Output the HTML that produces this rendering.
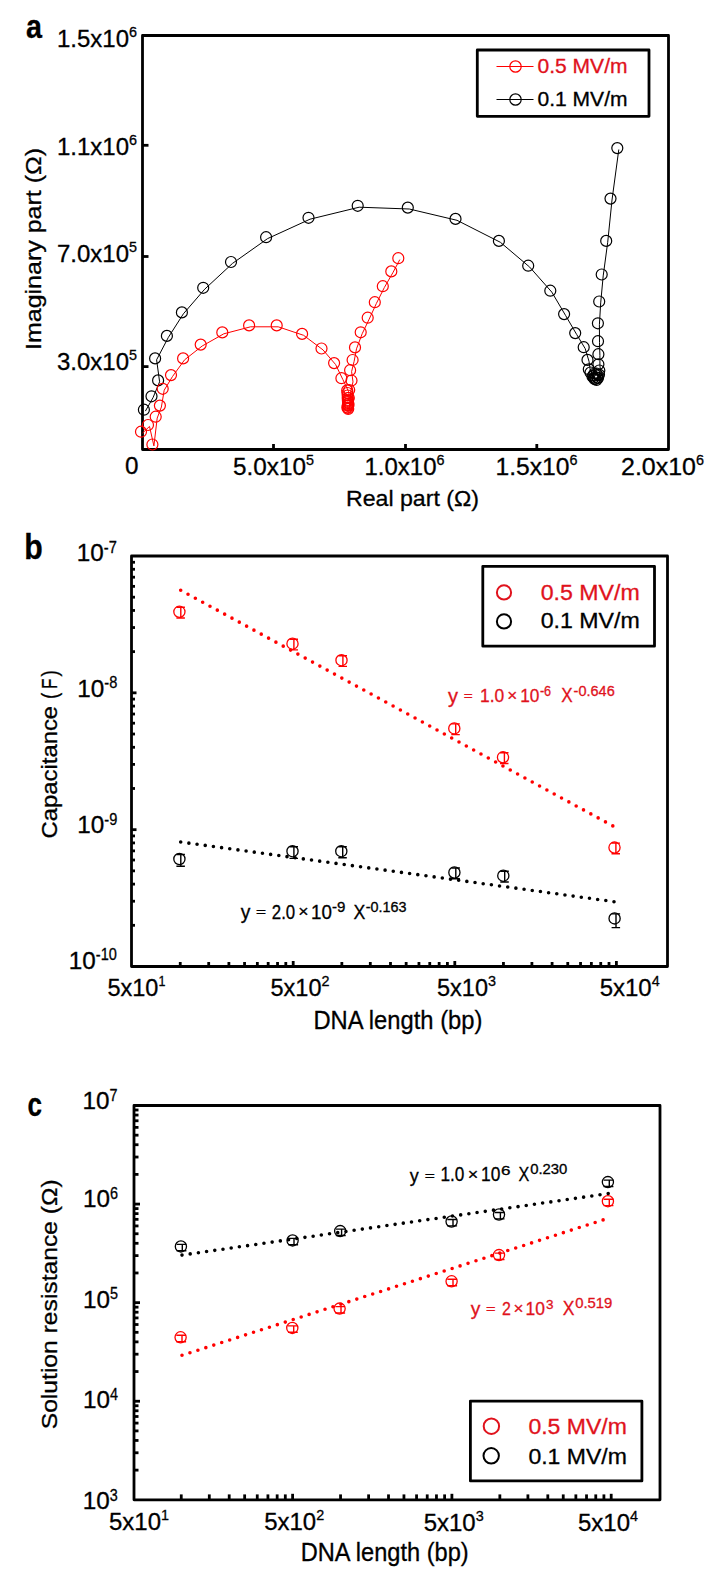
<!DOCTYPE html>
<html><head><meta charset="utf-8"><style>
html,body{margin:0;padding:0;background:#fff;}
svg{display:block;}
text{font-family:"Liberation Sans", sans-serif;stroke-width:0.3px;paint-order:stroke;}
</style></head><body>
<svg width="718" height="1582" viewBox="0 0 718 1582">
<rect width="718" height="1582" fill="#fff"/>
<text x="26" y="38" font-size="33" fill="#000" stroke="#000" font-weight="bold" textLength="16" lengthAdjust="spacingAndGlyphs">a</text>
<rect x="142.5" y="35.5" width="526.0" height="414.0" fill="none" stroke="#000" stroke-width="2.8" stroke-linejoin="round"/>
<line x1="142.5" y1="145.3" x2="148.5" y2="145.3" stroke="#000" stroke-width="2.8"/>
<line x1="142.5" y1="256.5" x2="148.5" y2="256.5" stroke="#000" stroke-width="2.8"/>
<line x1="142.5" y1="366.6" x2="148.5" y2="366.6" stroke="#000" stroke-width="2.8"/>
<line x1="273.5" y1="449.5" x2="273.5" y2="444.0" stroke="#000" stroke-width="2.8"/>
<line x1="405.5" y1="449.5" x2="405.5" y2="444.0" stroke="#000" stroke-width="2.8"/>
<line x1="536.8" y1="449.5" x2="536.8" y2="444.0" stroke="#000" stroke-width="2.8"/>
<text x="57" y="47" font-size="24" fill="#000" stroke="#000" font-weight="normal" textLength="72" lengthAdjust="spacingAndGlyphs">1.5x10</text>
<text x="129" y="37" font-size="15.5" fill="#000" stroke="#000" font-weight="normal" textLength="8" lengthAdjust="spacingAndGlyphs">6</text>
<text x="57" y="155" font-size="24" fill="#000" stroke="#000" font-weight="normal" textLength="72" lengthAdjust="spacingAndGlyphs">1.1x10</text>
<text x="129" y="145" font-size="15.5" fill="#000" stroke="#000" font-weight="normal" textLength="8" lengthAdjust="spacingAndGlyphs">6</text>
<text x="57" y="262" font-size="24" fill="#000" stroke="#000" font-weight="normal" textLength="72" lengthAdjust="spacingAndGlyphs">7.0x10</text>
<text x="129" y="252" font-size="15.5" fill="#000" stroke="#000" font-weight="normal" textLength="8" lengthAdjust="spacingAndGlyphs">5</text>
<text x="57" y="370" font-size="24" fill="#000" stroke="#000" font-weight="normal" textLength="72" lengthAdjust="spacingAndGlyphs">3.0x10</text>
<text x="129" y="360" font-size="15.5" fill="#000" stroke="#000" font-weight="normal" textLength="8" lengthAdjust="spacingAndGlyphs">5</text>
<text x="125" y="474" font-size="24" fill="#000" stroke="#000" font-weight="normal" textLength="13.5" lengthAdjust="spacingAndGlyphs">0</text>
<text x="233" y="475" font-size="24" fill="#000" stroke="#000" font-weight="normal" textLength="73" lengthAdjust="spacingAndGlyphs">5.0x10</text>
<text x="306" y="465" font-size="15.5" fill="#000" stroke="#000" font-weight="normal" textLength="8" lengthAdjust="spacingAndGlyphs">5</text>
<text x="364.5" y="475" font-size="24" fill="#000" stroke="#000" font-weight="normal" textLength="72" lengthAdjust="spacingAndGlyphs">1.0x10</text>
<text x="436.5" y="465" font-size="15.5" fill="#000" stroke="#000" font-weight="normal" textLength="8" lengthAdjust="spacingAndGlyphs">6</text>
<text x="495.5" y="475" font-size="24" fill="#000" stroke="#000" font-weight="normal" textLength="74" lengthAdjust="spacingAndGlyphs">1.5x10</text>
<text x="569.5" y="465" font-size="15.5" fill="#000" stroke="#000" font-weight="normal" textLength="8" lengthAdjust="spacingAndGlyphs">6</text>
<text x="621" y="475" font-size="24" fill="#000" stroke="#000" font-weight="normal" textLength="75" lengthAdjust="spacingAndGlyphs">2.0x10</text>
<text x="696" y="465" font-size="15.5" fill="#000" stroke="#000" font-weight="normal" textLength="8" lengthAdjust="spacingAndGlyphs">6</text>
<text x="346" y="505.5" font-size="22.5" fill="#000" stroke="#000" font-weight="normal" textLength="133" lengthAdjust="spacingAndGlyphs">Real part (Ω)</text>
<g transform="translate(40.5,350) rotate(-90)">
<text x="0" y="0" font-size="22" fill="#000" stroke="#000" font-weight="normal" textLength="202" lengthAdjust="spacingAndGlyphs">Imaginary part (Ω)</text>
</g>
<rect x="477.3" y="50" width="171.7" height="66.3" fill="none" stroke="#000" stroke-width="2.8" stroke-linejoin="round"/>
<line x1="496.5" y1="66.5" x2="533.5" y2="66.5" stroke="#ff0000" stroke-width="1.2"/>
<circle cx="515.5" cy="66.5" r="5.7" fill="none" stroke="#ff0000" stroke-width="1.2"/>
<text x="537.5" y="73" font-size="19.5" fill="#e0121c" stroke="#e0121c" font-weight="normal" textLength="90" lengthAdjust="spacingAndGlyphs">0.5 MV/m</text>
<line x1="496.5" y1="99.5" x2="533.5" y2="99.5" stroke="#000" stroke-width="1.2"/>
<circle cx="515.5" cy="99.5" r="5.7" fill="none" stroke="#000" stroke-width="1.2"/>
<text x="537.5" y="106" font-size="19.5" fill="#000" stroke="#000" font-weight="normal" textLength="90" lengthAdjust="spacingAndGlyphs">0.1 MV/m</text>
<polyline points="145.4,411.1 153.0,397.7 159.6,381.8 156.6,359.8 168.4,337.3 183.4,313.8 204.7,289.2 232.5,263.4 267.6,238.6 310.0,219.2 359.2,207.2 409.3,209.0 457.0,220.3 500.4,242.3 529.7,267.1 551.8,292.1 565.6,315.5 576.7,334.5 585.2,348.6 589.0,361.3 590.3,370.7 592.0,373.9 594.0,377.9 596.0,380.4 598.0,381.4 599.5,379.4 600.5,375.9 600.8,371.9 599.9,365.7 599.9,355.6 599.5,342.6 599.4,324.7 600.7,302.9 603.2,275.9 607.7,242.3 612.0,200.0 618.8,149.5" fill="none" stroke="#000" stroke-width="1.0" stroke-linejoin="round"/>
<circle cx="143.9" cy="409.7" r="5.5" fill="none" stroke="#000" stroke-width="1.2"/>
<circle cx="151.5" cy="396.3" r="5.5" fill="none" stroke="#000" stroke-width="1.2"/>
<circle cx="158.1" cy="380.4" r="5.5" fill="none" stroke="#000" stroke-width="1.2"/>
<circle cx="155.1" cy="358.4" r="5.5" fill="none" stroke="#000" stroke-width="1.2"/>
<circle cx="166.9" cy="335.9" r="5.5" fill="none" stroke="#000" stroke-width="1.2"/>
<circle cx="181.9" cy="312.4" r="5.5" fill="none" stroke="#000" stroke-width="1.2"/>
<circle cx="203.2" cy="287.8" r="5.5" fill="none" stroke="#000" stroke-width="1.2"/>
<circle cx="231.0" cy="262.0" r="5.5" fill="none" stroke="#000" stroke-width="1.2"/>
<circle cx="266.1" cy="237.2" r="5.5" fill="none" stroke="#000" stroke-width="1.2"/>
<circle cx="308.5" cy="217.8" r="5.5" fill="none" stroke="#000" stroke-width="1.2"/>
<circle cx="357.7" cy="205.8" r="5.5" fill="none" stroke="#000" stroke-width="1.2"/>
<circle cx="407.8" cy="207.6" r="5.5" fill="none" stroke="#000" stroke-width="1.2"/>
<circle cx="455.5" cy="218.9" r="5.5" fill="none" stroke="#000" stroke-width="1.2"/>
<circle cx="498.9" cy="240.9" r="5.5" fill="none" stroke="#000" stroke-width="1.2"/>
<circle cx="528.2" cy="265.7" r="5.5" fill="none" stroke="#000" stroke-width="1.2"/>
<circle cx="550.3" cy="290.7" r="5.5" fill="none" stroke="#000" stroke-width="1.2"/>
<circle cx="564.1" cy="314.1" r="5.5" fill="none" stroke="#000" stroke-width="1.2"/>
<circle cx="575.2" cy="333.1" r="5.5" fill="none" stroke="#000" stroke-width="1.2"/>
<circle cx="583.7" cy="347.2" r="5.5" fill="none" stroke="#000" stroke-width="1.2"/>
<circle cx="587.5" cy="359.9" r="5.5" fill="none" stroke="#000" stroke-width="1.2"/>
<circle cx="588.8" cy="369.3" r="5.5" fill="none" stroke="#000" stroke-width="1.2"/>
<circle cx="590.5" cy="372.5" r="5.5" fill="none" stroke="#000" stroke-width="1.2"/>
<circle cx="592.5" cy="376.5" r="5.5" fill="none" stroke="#000" stroke-width="1.2"/>
<circle cx="594.5" cy="379.0" r="5.5" fill="none" stroke="#000" stroke-width="1.2"/>
<circle cx="596.5" cy="380.0" r="5.5" fill="none" stroke="#000" stroke-width="1.2"/>
<circle cx="598.0" cy="378.0" r="5.5" fill="none" stroke="#000" stroke-width="1.2"/>
<circle cx="599.0" cy="374.5" r="5.5" fill="none" stroke="#000" stroke-width="1.2"/>
<circle cx="599.3" cy="370.5" r="5.5" fill="none" stroke="#000" stroke-width="1.2"/>
<circle cx="598.4" cy="364.3" r="5.5" fill="none" stroke="#000" stroke-width="1.2"/>
<circle cx="598.4" cy="354.2" r="5.5" fill="none" stroke="#000" stroke-width="1.2"/>
<circle cx="598.0" cy="341.2" r="5.5" fill="none" stroke="#000" stroke-width="1.2"/>
<circle cx="597.9" cy="323.3" r="5.5" fill="none" stroke="#000" stroke-width="1.2"/>
<circle cx="599.2" cy="301.5" r="5.5" fill="none" stroke="#000" stroke-width="1.2"/>
<circle cx="601.7" cy="274.5" r="5.5" fill="none" stroke="#000" stroke-width="1.2"/>
<circle cx="606.2" cy="240.9" r="5.5" fill="none" stroke="#000" stroke-width="1.2"/>
<circle cx="610.5" cy="198.6" r="5.5" fill="none" stroke="#000" stroke-width="1.2"/>
<circle cx="617.3" cy="148.1" r="5.5" fill="none" stroke="#000" stroke-width="1.2"/>
<polyline points="142.5,433.1 149.5,426.4 153.9,445.9 157.2,418.1 161.4,407.0 164.2,390.2 172.5,376.5 184.6,359.8 202.2,346.0 223.8,333.8 250.6,326.8 278.2,326.8 303.6,335.3 323.0,349.9 335.6,364.5 342.9,379.6 348.7,391.8 349.0,394.4 349.2,396.9 349.2,399.4 349.4,401.4 349.5,403.4 349.5,405.4 349.5,407.4 349.5,409.4 349.7,410.4 350.0,406.4 350.3,399.4 350.7,391.4 353.0,381.9 351.6,371.6 354.1,361.4 356.5,348.8 362.2,333.7 369.2,319.1 376.3,303.6 384.3,287.6 392.8,272.8 399.8,259.6" fill="none" stroke="#ff0000" stroke-width="1.0" stroke-linejoin="round"/>
<circle cx="141.0" cy="431.7" r="5.5" fill="none" stroke="#ff0000" stroke-width="1.2"/>
<circle cx="148.0" cy="425.0" r="5.5" fill="none" stroke="#ff0000" stroke-width="1.2"/>
<circle cx="152.4" cy="444.5" r="5.5" fill="none" stroke="#ff0000" stroke-width="1.2"/>
<circle cx="155.7" cy="416.7" r="5.5" fill="none" stroke="#ff0000" stroke-width="1.2"/>
<circle cx="159.9" cy="405.6" r="5.5" fill="none" stroke="#ff0000" stroke-width="1.2"/>
<circle cx="162.7" cy="388.8" r="5.5" fill="none" stroke="#ff0000" stroke-width="1.2"/>
<circle cx="171.0" cy="375.1" r="5.5" fill="none" stroke="#ff0000" stroke-width="1.2"/>
<circle cx="183.1" cy="358.4" r="5.5" fill="none" stroke="#ff0000" stroke-width="1.2"/>
<circle cx="200.7" cy="344.6" r="5.5" fill="none" stroke="#ff0000" stroke-width="1.2"/>
<circle cx="222.3" cy="332.4" r="5.5" fill="none" stroke="#ff0000" stroke-width="1.2"/>
<circle cx="249.1" cy="325.4" r="5.5" fill="none" stroke="#ff0000" stroke-width="1.2"/>
<circle cx="276.7" cy="325.4" r="5.5" fill="none" stroke="#ff0000" stroke-width="1.2"/>
<circle cx="302.1" cy="333.9" r="5.5" fill="none" stroke="#ff0000" stroke-width="1.2"/>
<circle cx="321.5" cy="348.5" r="5.5" fill="none" stroke="#ff0000" stroke-width="1.2"/>
<circle cx="334.1" cy="363.1" r="5.5" fill="none" stroke="#ff0000" stroke-width="1.2"/>
<circle cx="341.4" cy="378.2" r="5.5" fill="none" stroke="#ff0000" stroke-width="1.2"/>
<circle cx="347.2" cy="390.4" r="5.5" fill="none" stroke="#ff0000" stroke-width="1.2"/>
<circle cx="347.5" cy="393.0" r="5.5" fill="none" stroke="#ff0000" stroke-width="1.2"/>
<circle cx="347.7" cy="395.5" r="5.5" fill="none" stroke="#ff0000" stroke-width="1.2"/>
<circle cx="347.7" cy="398.0" r="5.5" fill="none" stroke="#ff0000" stroke-width="1.2"/>
<circle cx="347.9" cy="400.0" r="5.5" fill="none" stroke="#ff0000" stroke-width="1.2"/>
<circle cx="348.0" cy="402.0" r="5.5" fill="none" stroke="#ff0000" stroke-width="1.2"/>
<circle cx="348.0" cy="404.0" r="5.5" fill="none" stroke="#ff0000" stroke-width="1.2"/>
<circle cx="348.0" cy="406.0" r="5.5" fill="none" stroke="#ff0000" stroke-width="1.2"/>
<circle cx="348.0" cy="408.0" r="5.5" fill="none" stroke="#ff0000" stroke-width="1.2"/>
<circle cx="348.2" cy="409.0" r="5.5" fill="none" stroke="#ff0000" stroke-width="1.2"/>
<circle cx="348.5" cy="405.0" r="5.5" fill="none" stroke="#ff0000" stroke-width="1.2"/>
<circle cx="348.8" cy="398.0" r="5.5" fill="none" stroke="#ff0000" stroke-width="1.2"/>
<circle cx="349.2" cy="390.0" r="5.5" fill="none" stroke="#ff0000" stroke-width="1.2"/>
<circle cx="351.5" cy="380.5" r="5.5" fill="none" stroke="#ff0000" stroke-width="1.2"/>
<circle cx="350.1" cy="370.2" r="5.5" fill="none" stroke="#ff0000" stroke-width="1.2"/>
<circle cx="352.6" cy="360.0" r="5.5" fill="none" stroke="#ff0000" stroke-width="1.2"/>
<circle cx="355.0" cy="347.4" r="5.5" fill="none" stroke="#ff0000" stroke-width="1.2"/>
<circle cx="360.7" cy="332.3" r="5.5" fill="none" stroke="#ff0000" stroke-width="1.2"/>
<circle cx="367.7" cy="317.7" r="5.5" fill="none" stroke="#ff0000" stroke-width="1.2"/>
<circle cx="374.8" cy="302.2" r="5.5" fill="none" stroke="#ff0000" stroke-width="1.2"/>
<circle cx="382.8" cy="286.2" r="5.5" fill="none" stroke="#ff0000" stroke-width="1.2"/>
<circle cx="391.3" cy="271.4" r="5.5" fill="none" stroke="#ff0000" stroke-width="1.2"/>
<circle cx="398.3" cy="258.2" r="5.5" fill="none" stroke="#ff0000" stroke-width="1.2"/>
<circle cx="347.8" cy="401.0" r="5.3" fill="none" stroke="#ff0000" stroke-width="1.3"/>
<circle cx="348.4" cy="403.2" r="5.3" fill="none" stroke="#ff0000" stroke-width="1.3"/>
<circle cx="347.6" cy="405.4" r="5.3" fill="none" stroke="#ff0000" stroke-width="1.3"/>
<circle cx="347.2" cy="407.6" r="5.3" fill="none" stroke="#ff0000" stroke-width="1.3"/>
<circle cx="595.5" cy="379.0" r="5.3" fill="none" stroke="#000" stroke-width="1.2"/>
<circle cx="597.5" cy="377.9" r="5.3" fill="none" stroke="#000" stroke-width="1.2"/>
<circle cx="597.9" cy="375.3" r="5.3" fill="none" stroke="#000" stroke-width="1.2"/>
<circle cx="596.6" cy="373.3" r="5.3" fill="none" stroke="#000" stroke-width="1.2"/>
<circle cx="594.4" cy="373.3" r="5.3" fill="none" stroke="#000" stroke-width="1.2"/>
<circle cx="593.1" cy="375.4" r="5.3" fill="none" stroke="#000" stroke-width="1.2"/>
<circle cx="593.6" cy="377.9" r="5.3" fill="none" stroke="#000" stroke-width="1.2"/>
<text x="24.3" y="558.8" font-size="35.3" fill="#000" stroke="#000" font-weight="bold" textLength="18.5" lengthAdjust="spacingAndGlyphs">b</text>
<rect x="131.5" y="556" width="536.0" height="410.5" fill="none" stroke="#000" stroke-width="2.8" stroke-linejoin="round"/>
<line x1="131.5" y1="651.6423955933119" x2="135.0" y2="651.6423955933119" stroke="#000" stroke-width="2.8"/>
<line x1="131.5" y1="627.5472416458596" x2="135.0" y2="627.5472416458596" stroke="#000" stroke-width="2.8"/>
<line x1="131.5" y1="610.4514578532904" x2="135.0" y2="610.4514578532904" stroke="#000" stroke-width="2.8"/>
<line x1="131.5" y1="597.1909377400215" x2="135.0" y2="597.1909377400215" stroke="#000" stroke-width="2.8"/>
<line x1="131.5" y1="586.3563039058381" x2="135.0" y2="586.3563039058381" stroke="#000" stroke-width="2.8"/>
<line x1="131.5" y1="577.1957515247159" x2="135.0" y2="577.1957515247159" stroke="#000" stroke-width="2.8"/>
<line x1="131.5" y1="569.2605201132691" x2="135.0" y2="569.2605201132691" stroke="#000" stroke-width="2.8"/>
<line x1="131.5" y1="562.2611499583857" x2="135.0" y2="562.2611499583857" stroke="#000" stroke-width="2.8"/>
<line x1="131.5" y1="692.8333333333334" x2="136.5" y2="692.8333333333334" stroke="#000" stroke-width="2.8"/>
<line x1="131.5" y1="788.4757289266453" x2="135.0" y2="788.4757289266453" stroke="#000" stroke-width="2.8"/>
<line x1="131.5" y1="764.3805749791929" x2="135.0" y2="764.3805749791929" stroke="#000" stroke-width="2.8"/>
<line x1="131.5" y1="747.2847911866238" x2="135.0" y2="747.2847911866238" stroke="#000" stroke-width="2.8"/>
<line x1="131.5" y1="734.0242710733548" x2="135.0" y2="734.0242710733548" stroke="#000" stroke-width="2.8"/>
<line x1="131.5" y1="723.1896372391715" x2="135.0" y2="723.1896372391715" stroke="#000" stroke-width="2.8"/>
<line x1="131.5" y1="714.0290848580493" x2="135.0" y2="714.0290848580493" stroke="#000" stroke-width="2.8"/>
<line x1="131.5" y1="706.0938534466025" x2="135.0" y2="706.0938534466025" stroke="#000" stroke-width="2.8"/>
<line x1="131.5" y1="699.094483291719" x2="135.0" y2="699.094483291719" stroke="#000" stroke-width="2.8"/>
<line x1="131.5" y1="829.6666666666667" x2="136.5" y2="829.6666666666667" stroke="#000" stroke-width="2.8"/>
<line x1="131.5" y1="925.3090622599786" x2="135.0" y2="925.3090622599786" stroke="#000" stroke-width="2.8"/>
<line x1="131.5" y1="901.2139083125263" x2="135.0" y2="901.2139083125263" stroke="#000" stroke-width="2.8"/>
<line x1="131.5" y1="884.1181245199572" x2="135.0" y2="884.1181245199572" stroke="#000" stroke-width="2.8"/>
<line x1="131.5" y1="870.8576044066882" x2="135.0" y2="870.8576044066882" stroke="#000" stroke-width="2.8"/>
<line x1="131.5" y1="860.0229705725048" x2="135.0" y2="860.0229705725048" stroke="#000" stroke-width="2.8"/>
<line x1="131.5" y1="850.8624181913826" x2="135.0" y2="850.8624181913826" stroke="#000" stroke-width="2.8"/>
<line x1="131.5" y1="842.9271867799358" x2="135.0" y2="842.9271867799358" stroke="#000" stroke-width="2.8"/>
<line x1="131.5" y1="835.9278166250524" x2="135.0" y2="835.9278166250524" stroke="#000" stroke-width="2.8"/>
<line x1="180.24644729929935" y1="966.5" x2="180.24644729929935" y2="962.0" stroke="#000" stroke-width="2.8"/>
<line x1="208.70279476269744" y1="966.5" x2="208.70279476269744" y2="962.0" stroke="#000" stroke-width="2.8"/>
<line x1="228.89289459859873" y1="966.5" x2="228.89289459859873" y2="962.0" stroke="#000" stroke-width="2.8"/>
<line x1="244.55355270070064" y1="966.5" x2="244.55355270070064" y2="962.0" stroke="#000" stroke-width="2.8"/>
<line x1="257.3492420619968" y1="966.5" x2="257.3492420619968" y2="962.0" stroke="#000" stroke-width="2.8"/>
<line x1="268.16784326630386" y1="966.5" x2="268.16784326630386" y2="962.0" stroke="#000" stroke-width="2.8"/>
<line x1="277.53934189789805" y1="966.5" x2="277.53934189789805" y2="962.0" stroke="#000" stroke-width="2.8"/>
<line x1="285.8055895253949" y1="966.5" x2="285.8055895253949" y2="962.0" stroke="#000" stroke-width="2.8"/>
<line x1="293.2" y1="966.5" x2="293.2" y2="961.0" stroke="#000" stroke-width="2.8"/>
<line x1="341.84644729929937" y1="966.5" x2="341.84644729929937" y2="962.0" stroke="#000" stroke-width="2.8"/>
<line x1="370.30279476269743" y1="966.5" x2="370.30279476269743" y2="962.0" stroke="#000" stroke-width="2.8"/>
<line x1="390.4928945985987" y1="966.5" x2="390.4928945985987" y2="962.0" stroke="#000" stroke-width="2.8"/>
<line x1="406.15355270070063" y1="966.5" x2="406.15355270070063" y2="962.0" stroke="#000" stroke-width="2.8"/>
<line x1="418.9492420619968" y1="966.5" x2="418.9492420619968" y2="962.0" stroke="#000" stroke-width="2.8"/>
<line x1="429.7678432663039" y1="966.5" x2="429.7678432663039" y2="962.0" stroke="#000" stroke-width="2.8"/>
<line x1="439.139341897898" y1="966.5" x2="439.139341897898" y2="962.0" stroke="#000" stroke-width="2.8"/>
<line x1="447.4055895253949" y1="966.5" x2="447.4055895253949" y2="962.0" stroke="#000" stroke-width="2.8"/>
<line x1="454.79999999999995" y1="966.5" x2="454.79999999999995" y2="961.0" stroke="#000" stroke-width="2.8"/>
<line x1="503.44644729929934" y1="966.5" x2="503.44644729929934" y2="962.0" stroke="#000" stroke-width="2.8"/>
<line x1="531.9027947626973" y1="966.5" x2="531.9027947626973" y2="962.0" stroke="#000" stroke-width="2.8"/>
<line x1="552.0928945985987" y1="966.5" x2="552.0928945985987" y2="962.0" stroke="#000" stroke-width="2.8"/>
<line x1="567.7535527007005" y1="966.5" x2="567.7535527007005" y2="962.0" stroke="#000" stroke-width="2.8"/>
<line x1="580.5492420619968" y1="966.5" x2="580.5492420619968" y2="962.0" stroke="#000" stroke-width="2.8"/>
<line x1="591.3678432663039" y1="966.5" x2="591.3678432663039" y2="962.0" stroke="#000" stroke-width="2.8"/>
<line x1="600.739341897898" y1="966.5" x2="600.739341897898" y2="962.0" stroke="#000" stroke-width="2.8"/>
<line x1="609.0055895253948" y1="966.5" x2="609.0055895253948" y2="962.0" stroke="#000" stroke-width="2.8"/>
<line x1="616.4" y1="966.5" x2="616.4" y2="961.0" stroke="#000" stroke-width="2.8"/>
<text x="76.8" y="561.4" font-size="23" fill="#000" stroke="#000" font-weight="normal" textLength="27" lengthAdjust="spacingAndGlyphs">10</text>
<text x="103.8" y="552.6999999999999" font-size="16.5" fill="#000" stroke="#000" font-weight="normal" textLength="13" lengthAdjust="spacingAndGlyphs">-7</text>
<text x="77.3" y="696.9" font-size="23" fill="#000" stroke="#000" font-weight="normal" textLength="27" lengthAdjust="spacingAndGlyphs">10</text>
<text x="104.3" y="688.1999999999999" font-size="16.5" fill="#000" stroke="#000" font-weight="normal" textLength="13" lengthAdjust="spacingAndGlyphs">-8</text>
<text x="77.3" y="833.4" font-size="23" fill="#000" stroke="#000" font-weight="normal" textLength="27" lengthAdjust="spacingAndGlyphs">10</text>
<text x="104.3" y="824.6999999999999" font-size="16.5" fill="#000" stroke="#000" font-weight="normal" textLength="13" lengthAdjust="spacingAndGlyphs">-9</text>
<text x="68.8" y="968.9" font-size="23" fill="#000" stroke="#000" font-weight="normal" textLength="27" lengthAdjust="spacingAndGlyphs">10</text>
<text x="95.8" y="960.1999999999999" font-size="16.5" fill="#000" stroke="#000" font-weight="normal" textLength="21" lengthAdjust="spacingAndGlyphs">-10</text>
<text x="107.4" y="996" font-size="24" fill="#000" stroke="#000" font-weight="normal" textLength="51" lengthAdjust="spacingAndGlyphs">5x10</text>
<text x="158.4" y="986" font-size="15.5" fill="#000" stroke="#000" font-weight="normal" textLength="7" lengthAdjust="spacingAndGlyphs">1</text>
<text x="270.5" y="996" font-size="24" fill="#000" stroke="#000" font-weight="normal" textLength="51" lengthAdjust="spacingAndGlyphs">5x10</text>
<text x="321.5" y="986" font-size="15.5" fill="#000" stroke="#000" font-weight="normal" textLength="8" lengthAdjust="spacingAndGlyphs">2</text>
<text x="437" y="996" font-size="24" fill="#000" stroke="#000" font-weight="normal" textLength="51" lengthAdjust="spacingAndGlyphs">5x10</text>
<text x="488" y="986" font-size="15.5" fill="#000" stroke="#000" font-weight="normal" textLength="8" lengthAdjust="spacingAndGlyphs">3</text>
<text x="599.7" y="996" font-size="24" fill="#000" stroke="#000" font-weight="normal" textLength="52" lengthAdjust="spacingAndGlyphs">5x10</text>
<text x="651.7" y="986" font-size="15.5" fill="#000" stroke="#000" font-weight="normal" textLength="8" lengthAdjust="spacingAndGlyphs">4</text>
<text x="313.4" y="1028.5" font-size="25" fill="#000" stroke="#000" font-weight="normal" textLength="169" lengthAdjust="spacingAndGlyphs">DNA length (bp)</text>
<g transform="translate(57,838.4) rotate(-90)">
<text x="0" y="0" font-size="22.5" fill="#000" stroke="#000" font-weight="normal" textLength="132.5" lengthAdjust="spacingAndGlyphs">Capacitance</text>
<text x="139.3" y="0" font-size="22.5" fill="#000" stroke="#000" font-weight="normal" textLength="6.3" lengthAdjust="spacingAndGlyphs">(</text>
<text x="149.5" y="0" font-size="22.5" fill="#000" stroke="#000" font-weight="normal" textLength="10.5" lengthAdjust="spacingAndGlyphs">F</text>
<text x="162" y="0" font-size="22.5" fill="#000" stroke="#000" font-weight="normal" textLength="6.3" lengthAdjust="spacingAndGlyphs">)</text>
</g>
<rect x="482.8" y="566.3" width="171.7" height="79.90000000000009" fill="none" stroke="#000" stroke-width="2.8" stroke-linejoin="round"/>
<circle cx="504.0" cy="592.4" r="7.1" fill="none" stroke="#e0121c" stroke-width="2.0"/>
<circle cx="504.0" cy="621.4" r="7.1" fill="none" stroke="#000" stroke-width="2.0"/>
<text x="540.7" y="600" font-size="21.5" fill="#e0121c" stroke="#e0121c" font-weight="normal" textLength="99" lengthAdjust="spacingAndGlyphs">0.5 MV/m</text>
<text x="540.7" y="628.3" font-size="21.5" fill="#000" stroke="#000" font-weight="normal" textLength="99" lengthAdjust="spacingAndGlyphs">0.1 MV/m</text>
<path d="M178.90,590.20a1.8,1.8 0 1,0 3.6,0a1.8,1.8 0 1,0 -3.6,0M186.22,594.19a1.8,1.8 0 1,0 3.6,0a1.8,1.8 0 1,0 -3.6,0M193.55,598.19a1.8,1.8 0 1,0 3.6,0a1.8,1.8 0 1,0 -3.6,0M200.87,602.18a1.8,1.8 0 1,0 3.6,0a1.8,1.8 0 1,0 -3.6,0M208.19,606.18a1.8,1.8 0 1,0 3.6,0a1.8,1.8 0 1,0 -3.6,0M215.52,610.17a1.8,1.8 0 1,0 3.6,0a1.8,1.8 0 1,0 -3.6,0M222.84,614.17a1.8,1.8 0 1,0 3.6,0a1.8,1.8 0 1,0 -3.6,0M230.17,618.16a1.8,1.8 0 1,0 3.6,0a1.8,1.8 0 1,0 -3.6,0M237.49,622.16a1.8,1.8 0 1,0 3.6,0a1.8,1.8 0 1,0 -3.6,0M244.81,626.15a1.8,1.8 0 1,0 3.6,0a1.8,1.8 0 1,0 -3.6,0M252.14,630.15a1.8,1.8 0 1,0 3.6,0a1.8,1.8 0 1,0 -3.6,0M259.46,634.14a1.8,1.8 0 1,0 3.6,0a1.8,1.8 0 1,0 -3.6,0M266.78,638.14a1.8,1.8 0 1,0 3.6,0a1.8,1.8 0 1,0 -3.6,0M274.11,642.13a1.8,1.8 0 1,0 3.6,0a1.8,1.8 0 1,0 -3.6,0M281.43,646.13a1.8,1.8 0 1,0 3.6,0a1.8,1.8 0 1,0 -3.6,0M288.76,650.12a1.8,1.8 0 1,0 3.6,0a1.8,1.8 0 1,0 -3.6,0M296.08,654.12a1.8,1.8 0 1,0 3.6,0a1.8,1.8 0 1,0 -3.6,0M303.40,658.11a1.8,1.8 0 1,0 3.6,0a1.8,1.8 0 1,0 -3.6,0M310.73,662.11a1.8,1.8 0 1,0 3.6,0a1.8,1.8 0 1,0 -3.6,0M318.05,666.10a1.8,1.8 0 1,0 3.6,0a1.8,1.8 0 1,0 -3.6,0M325.37,670.10a1.8,1.8 0 1,0 3.6,0a1.8,1.8 0 1,0 -3.6,0M332.70,674.09a1.8,1.8 0 1,0 3.6,0a1.8,1.8 0 1,0 -3.6,0M340.02,678.09a1.8,1.8 0 1,0 3.6,0a1.8,1.8 0 1,0 -3.6,0M347.35,682.08a1.8,1.8 0 1,0 3.6,0a1.8,1.8 0 1,0 -3.6,0M354.67,686.08a1.8,1.8 0 1,0 3.6,0a1.8,1.8 0 1,0 -3.6,0M361.99,690.07a1.8,1.8 0 1,0 3.6,0a1.8,1.8 0 1,0 -3.6,0M369.32,694.07a1.8,1.8 0 1,0 3.6,0a1.8,1.8 0 1,0 -3.6,0M376.64,698.06a1.8,1.8 0 1,0 3.6,0a1.8,1.8 0 1,0 -3.6,0M383.96,702.06a1.8,1.8 0 1,0 3.6,0a1.8,1.8 0 1,0 -3.6,0M391.29,706.05a1.8,1.8 0 1,0 3.6,0a1.8,1.8 0 1,0 -3.6,0M398.61,710.05a1.8,1.8 0 1,0 3.6,0a1.8,1.8 0 1,0 -3.6,0M405.94,714.04a1.8,1.8 0 1,0 3.6,0a1.8,1.8 0 1,0 -3.6,0M413.26,718.04a1.8,1.8 0 1,0 3.6,0a1.8,1.8 0 1,0 -3.6,0M420.58,722.03a1.8,1.8 0 1,0 3.6,0a1.8,1.8 0 1,0 -3.6,0M427.91,726.03a1.8,1.8 0 1,0 3.6,0a1.8,1.8 0 1,0 -3.6,0M435.23,730.02a1.8,1.8 0 1,0 3.6,0a1.8,1.8 0 1,0 -3.6,0M442.55,734.02a1.8,1.8 0 1,0 3.6,0a1.8,1.8 0 1,0 -3.6,0M449.88,738.01a1.8,1.8 0 1,0 3.6,0a1.8,1.8 0 1,0 -3.6,0M457.20,742.01a1.8,1.8 0 1,0 3.6,0a1.8,1.8 0 1,0 -3.6,0M464.53,746.00a1.8,1.8 0 1,0 3.6,0a1.8,1.8 0 1,0 -3.6,0M471.85,750.00a1.8,1.8 0 1,0 3.6,0a1.8,1.8 0 1,0 -3.6,0M479.17,753.99a1.8,1.8 0 1,0 3.6,0a1.8,1.8 0 1,0 -3.6,0M486.50,757.99a1.8,1.8 0 1,0 3.6,0a1.8,1.8 0 1,0 -3.6,0M493.82,761.98a1.8,1.8 0 1,0 3.6,0a1.8,1.8 0 1,0 -3.6,0M501.14,765.98a1.8,1.8 0 1,0 3.6,0a1.8,1.8 0 1,0 -3.6,0M508.47,769.97a1.8,1.8 0 1,0 3.6,0a1.8,1.8 0 1,0 -3.6,0M515.79,773.97a1.8,1.8 0 1,0 3.6,0a1.8,1.8 0 1,0 -3.6,0M523.12,777.96a1.8,1.8 0 1,0 3.6,0a1.8,1.8 0 1,0 -3.6,0M530.44,781.96a1.8,1.8 0 1,0 3.6,0a1.8,1.8 0 1,0 -3.6,0M537.76,785.95a1.8,1.8 0 1,0 3.6,0a1.8,1.8 0 1,0 -3.6,0M545.09,789.95a1.8,1.8 0 1,0 3.6,0a1.8,1.8 0 1,0 -3.6,0M552.41,793.94a1.8,1.8 0 1,0 3.6,0a1.8,1.8 0 1,0 -3.6,0M559.73,797.94a1.8,1.8 0 1,0 3.6,0a1.8,1.8 0 1,0 -3.6,0M567.06,801.93a1.8,1.8 0 1,0 3.6,0a1.8,1.8 0 1,0 -3.6,0M574.38,805.93a1.8,1.8 0 1,0 3.6,0a1.8,1.8 0 1,0 -3.6,0M581.71,809.92a1.8,1.8 0 1,0 3.6,0a1.8,1.8 0 1,0 -3.6,0M589.03,813.92a1.8,1.8 0 1,0 3.6,0a1.8,1.8 0 1,0 -3.6,0M596.35,817.91a1.8,1.8 0 1,0 3.6,0a1.8,1.8 0 1,0 -3.6,0M603.68,821.91a1.8,1.8 0 1,0 3.6,0a1.8,1.8 0 1,0 -3.6,0M611.00,825.90a1.8,1.8 0 1,0 3.6,0a1.8,1.8 0 1,0 -3.6,0" fill="#ff0000"/>
<path d="M178.90,842.00a1.8,1.8 0 1,0 3.6,0a1.8,1.8 0 1,0 -3.6,0M187.08,843.13a1.8,1.8 0 1,0 3.6,0a1.8,1.8 0 1,0 -3.6,0M195.25,844.25a1.8,1.8 0 1,0 3.6,0a1.8,1.8 0 1,0 -3.6,0M203.43,845.38a1.8,1.8 0 1,0 3.6,0a1.8,1.8 0 1,0 -3.6,0M211.60,846.51a1.8,1.8 0 1,0 3.6,0a1.8,1.8 0 1,0 -3.6,0M219.78,847.63a1.8,1.8 0 1,0 3.6,0a1.8,1.8 0 1,0 -3.6,0M227.95,848.76a1.8,1.8 0 1,0 3.6,0a1.8,1.8 0 1,0 -3.6,0M236.13,849.88a1.8,1.8 0 1,0 3.6,0a1.8,1.8 0 1,0 -3.6,0M244.30,851.01a1.8,1.8 0 1,0 3.6,0a1.8,1.8 0 1,0 -3.6,0M252.48,852.14a1.8,1.8 0 1,0 3.6,0a1.8,1.8 0 1,0 -3.6,0M260.65,853.26a1.8,1.8 0 1,0 3.6,0a1.8,1.8 0 1,0 -3.6,0M268.83,854.39a1.8,1.8 0 1,0 3.6,0a1.8,1.8 0 1,0 -3.6,0M277.01,855.52a1.8,1.8 0 1,0 3.6,0a1.8,1.8 0 1,0 -3.6,0M285.18,856.64a1.8,1.8 0 1,0 3.6,0a1.8,1.8 0 1,0 -3.6,0M293.36,857.77a1.8,1.8 0 1,0 3.6,0a1.8,1.8 0 1,0 -3.6,0M301.53,858.90a1.8,1.8 0 1,0 3.6,0a1.8,1.8 0 1,0 -3.6,0M309.71,860.02a1.8,1.8 0 1,0 3.6,0a1.8,1.8 0 1,0 -3.6,0M317.88,861.15a1.8,1.8 0 1,0 3.6,0a1.8,1.8 0 1,0 -3.6,0M326.06,862.28a1.8,1.8 0 1,0 3.6,0a1.8,1.8 0 1,0 -3.6,0M334.23,863.40a1.8,1.8 0 1,0 3.6,0a1.8,1.8 0 1,0 -3.6,0M342.41,864.53a1.8,1.8 0 1,0 3.6,0a1.8,1.8 0 1,0 -3.6,0M350.58,865.65a1.8,1.8 0 1,0 3.6,0a1.8,1.8 0 1,0 -3.6,0M358.76,866.78a1.8,1.8 0 1,0 3.6,0a1.8,1.8 0 1,0 -3.6,0M366.94,867.91a1.8,1.8 0 1,0 3.6,0a1.8,1.8 0 1,0 -3.6,0M375.11,869.03a1.8,1.8 0 1,0 3.6,0a1.8,1.8 0 1,0 -3.6,0M383.29,870.16a1.8,1.8 0 1,0 3.6,0a1.8,1.8 0 1,0 -3.6,0M391.46,871.29a1.8,1.8 0 1,0 3.6,0a1.8,1.8 0 1,0 -3.6,0M399.64,872.41a1.8,1.8 0 1,0 3.6,0a1.8,1.8 0 1,0 -3.6,0M407.81,873.54a1.8,1.8 0 1,0 3.6,0a1.8,1.8 0 1,0 -3.6,0M415.99,874.67a1.8,1.8 0 1,0 3.6,0a1.8,1.8 0 1,0 -3.6,0M424.16,875.79a1.8,1.8 0 1,0 3.6,0a1.8,1.8 0 1,0 -3.6,0M432.34,876.92a1.8,1.8 0 1,0 3.6,0a1.8,1.8 0 1,0 -3.6,0M440.52,878.05a1.8,1.8 0 1,0 3.6,0a1.8,1.8 0 1,0 -3.6,0M448.69,879.17a1.8,1.8 0 1,0 3.6,0a1.8,1.8 0 1,0 -3.6,0M456.87,880.30a1.8,1.8 0 1,0 3.6,0a1.8,1.8 0 1,0 -3.6,0M465.04,881.42a1.8,1.8 0 1,0 3.6,0a1.8,1.8 0 1,0 -3.6,0M473.22,882.55a1.8,1.8 0 1,0 3.6,0a1.8,1.8 0 1,0 -3.6,0M481.39,883.68a1.8,1.8 0 1,0 3.6,0a1.8,1.8 0 1,0 -3.6,0M489.57,884.80a1.8,1.8 0 1,0 3.6,0a1.8,1.8 0 1,0 -3.6,0M497.74,885.93a1.8,1.8 0 1,0 3.6,0a1.8,1.8 0 1,0 -3.6,0M505.92,887.06a1.8,1.8 0 1,0 3.6,0a1.8,1.8 0 1,0 -3.6,0M514.09,888.18a1.8,1.8 0 1,0 3.6,0a1.8,1.8 0 1,0 -3.6,0M522.27,889.31a1.8,1.8 0 1,0 3.6,0a1.8,1.8 0 1,0 -3.6,0M530.45,890.44a1.8,1.8 0 1,0 3.6,0a1.8,1.8 0 1,0 -3.6,0M538.62,891.56a1.8,1.8 0 1,0 3.6,0a1.8,1.8 0 1,0 -3.6,0M546.80,892.69a1.8,1.8 0 1,0 3.6,0a1.8,1.8 0 1,0 -3.6,0M554.97,893.82a1.8,1.8 0 1,0 3.6,0a1.8,1.8 0 1,0 -3.6,0M563.15,894.94a1.8,1.8 0 1,0 3.6,0a1.8,1.8 0 1,0 -3.6,0M571.32,896.07a1.8,1.8 0 1,0 3.6,0a1.8,1.8 0 1,0 -3.6,0M579.50,897.19a1.8,1.8 0 1,0 3.6,0a1.8,1.8 0 1,0 -3.6,0M587.67,898.32a1.8,1.8 0 1,0 3.6,0a1.8,1.8 0 1,0 -3.6,0M595.85,899.45a1.8,1.8 0 1,0 3.6,0a1.8,1.8 0 1,0 -3.6,0M604.02,900.57a1.8,1.8 0 1,0 3.6,0a1.8,1.8 0 1,0 -3.6,0M612.20,901.70a1.8,1.8 0 1,0 3.6,0a1.8,1.8 0 1,0 -3.6,0" fill="#000"/>
<circle cx="179.4" cy="611.8" r="5.6" fill="none" stroke="#ff0000" stroke-width="1.3"/>
<path d="M176.4,607.3H184.9M180.8,607.3V618.0M176.4,618.0H184.9" stroke="#ff0000" stroke-width="1.4" fill="none"/>
<circle cx="292.5" cy="643.7" r="5.6" fill="none" stroke="#ff0000" stroke-width="1.3"/>
<path d="M289.5,639.2H298.0M293.9,639.2V649.9M289.5,649.9H298.0" stroke="#ff0000" stroke-width="1.4" fill="none"/>
<circle cx="341.5" cy="660.2" r="5.6" fill="none" stroke="#ff0000" stroke-width="1.3"/>
<path d="M338.5,655.7H347.0M342.9,655.7V666.4M338.5,666.4H347.0" stroke="#ff0000" stroke-width="1.4" fill="none"/>
<circle cx="454.3" cy="728.4" r="5.6" fill="none" stroke="#ff0000" stroke-width="1.3"/>
<path d="M451.3,723.9H459.8M455.7,723.9V734.6M451.3,734.6H459.8" stroke="#ff0000" stroke-width="1.4" fill="none"/>
<circle cx="503.0" cy="757.3" r="5.6" fill="none" stroke="#ff0000" stroke-width="1.3"/>
<path d="M500.0,752.8H508.5M504.4,752.8V763.5M500.0,763.5H508.5" stroke="#ff0000" stroke-width="1.4" fill="none"/>
<circle cx="614.5" cy="847.6" r="5.6" fill="none" stroke="#ff0000" stroke-width="1.3"/>
<path d="M611.5,843.1H620.0M615.9,843.1V853.8M611.5,853.8H620.0" stroke="#ff0000" stroke-width="1.4" fill="none"/>
<circle cx="179.4" cy="859.0" r="5.6" fill="none" stroke="#000" stroke-width="1.3"/>
<path d="M176.4,854.5H184.9M180.8,854.5V866.3M176.4,866.3H184.9" stroke="#000" stroke-width="1.4" fill="none"/>
<circle cx="292.5" cy="851.2" r="5.6" fill="none" stroke="#000" stroke-width="1.3"/>
<path d="M289.5,846.7H298.0M293.9,846.7V858.4M289.5,858.4H298.0" stroke="#000" stroke-width="1.4" fill="none"/>
<circle cx="341.3" cy="851.2" r="5.6" fill="none" stroke="#000" stroke-width="1.3"/>
<path d="M338.3,846.7H346.8M342.7,846.7V857.8M338.3,857.8H346.8" stroke="#000" stroke-width="1.4" fill="none"/>
<circle cx="454.4" cy="872.5" r="5.6" fill="none" stroke="#000" stroke-width="1.3"/>
<path d="M451.4,868.0H459.9M455.8,868.0V878.8M451.4,878.8H459.9" stroke="#000" stroke-width="1.4" fill="none"/>
<circle cx="503.3" cy="875.7" r="5.6" fill="none" stroke="#000" stroke-width="1.3"/>
<path d="M500.3,871.2H508.8M504.7,871.2V882.0M500.3,882.0H508.8" stroke="#000" stroke-width="1.4" fill="none"/>
<circle cx="614.6" cy="918.4" r="5.6" fill="none" stroke="#000" stroke-width="1.3"/>
<path d="M611.6,913.9H620.1M616.0,913.9V927.6M611.6,927.6H620.1" stroke="#000" stroke-width="1.4" fill="none"/>
<text x="448.0" y="702.69" font-size="19.29" fill="#e0121c" stroke="#e0121c" font-weight="normal" textLength="10.0" lengthAdjust="spacingAndGlyphs">y</text>
<text x="463.7" y="699.7" font-size="10.2" fill="#e0121c" stroke="#e0121c" font-weight="normal" textLength="8.9" lengthAdjust="spacingAndGlyphs">=</text>
<text x="480.1" y="702.41" font-size="18.93" fill="#e0121c" stroke="#e0121c" font-weight="normal" textLength="24.2" lengthAdjust="spacingAndGlyphs">1.0</text>
<text x="507.2" y="701.4" font-size="16.91" fill="#e0121c" stroke="#e0121c" font-weight="normal" textLength="10.0" lengthAdjust="spacingAndGlyphs">×</text>
<text x="520.2" y="702.41" font-size="18.93" fill="#e0121c" stroke="#e0121c" font-weight="normal" textLength="19.21" lengthAdjust="spacingAndGlyphs">10</text>
<text x="539.9" y="695.76" font-size="14.27" fill="#e0121c" stroke="#e0121c" font-weight="normal" textLength="11.2" lengthAdjust="spacingAndGlyphs">-6</text>
<text x="561.2" y="702.4" font-size="20.78" fill="#e0121c" stroke="#e0121c" font-weight="normal" textLength="11.4" lengthAdjust="spacingAndGlyphs">X</text>
<text x="573.6" y="695.66" font-size="14.41" fill="#e0121c" stroke="#e0121c" font-weight="normal" textLength="41.11" lengthAdjust="spacingAndGlyphs">-0.646</text>
<text x="240.8" y="918.59" font-size="19.29" fill="#000" stroke="#000" font-weight="normal" textLength="9.6" lengthAdjust="spacingAndGlyphs">y</text>
<text x="255.9" y="916.0" font-size="10.2" fill="#000" stroke="#000" font-weight="normal" textLength="10.0" lengthAdjust="spacingAndGlyphs">=</text>
<text x="271.8" y="919.0" font-size="20.06" fill="#000" stroke="#000" font-weight="normal" textLength="23.4" lengthAdjust="spacingAndGlyphs">2.0</text>
<text x="298.2" y="917.4" font-size="16.91" fill="#000" stroke="#000" font-weight="normal" textLength="10.3" lengthAdjust="spacingAndGlyphs">×</text>
<text x="311.0" y="919.0" font-size="20.06" fill="#000" stroke="#000" font-weight="normal" textLength="20.91" lengthAdjust="spacingAndGlyphs">10</text>
<text x="331.9" y="912.36" font-size="14.12" fill="#000" stroke="#000" font-weight="normal" textLength="13.4" lengthAdjust="spacingAndGlyphs">-9</text>
<text x="353.6" y="919.4" font-size="20.93" fill="#000" stroke="#000" font-weight="normal" textLength="11.8" lengthAdjust="spacingAndGlyphs">X</text>
<text x="365.8" y="912.06" font-size="14.12" fill="#000" stroke="#000" font-weight="normal" textLength="40.71" lengthAdjust="spacingAndGlyphs">-0.163</text>
<text x="27.5" y="1116" font-size="33" fill="#000" stroke="#000" font-weight="bold" textLength="14.5" lengthAdjust="spacingAndGlyphs">c</text>
<rect x="134" y="1105.5" width="526" height="394.29999999999995" fill="none" stroke="#000" stroke-width="2.8" stroke-linejoin="round"/>
<line x1="134" y1="1174.400968177423" x2="138.5" y2="1174.400968177423" stroke="#000" stroke-width="2.8"/>
<line x1="134" y1="1157.0427723160092" x2="138.5" y2="1157.0427723160092" stroke="#000" stroke-width="2.8"/>
<line x1="134" y1="1144.7269363548462" x2="138.5" y2="1144.7269363548462" stroke="#000" stroke-width="2.8"/>
<line x1="134" y1="1135.174031822577" x2="138.5" y2="1135.174031822577" stroke="#000" stroke-width="2.8"/>
<line x1="134" y1="1127.3687404934324" x2="138.5" y2="1127.3687404934324" stroke="#000" stroke-width="2.8"/>
<line x1="134" y1="1120.7694607055946" x2="138.5" y2="1120.7694607055946" stroke="#000" stroke-width="2.8"/>
<line x1="134" y1="1115.0529045322692" x2="138.5" y2="1115.0529045322692" stroke="#000" stroke-width="2.8"/>
<line x1="134" y1="1110.0105446320185" x2="138.5" y2="1110.0105446320185" stroke="#000" stroke-width="2.8"/>
<line x1="134" y1="1204.075" x2="140" y2="1204.075" stroke="#000" stroke-width="2.8"/>
<line x1="134" y1="1272.975968177423" x2="138.5" y2="1272.975968177423" stroke="#000" stroke-width="2.8"/>
<line x1="134" y1="1255.6177723160092" x2="138.5" y2="1255.6177723160092" stroke="#000" stroke-width="2.8"/>
<line x1="134" y1="1243.3019363548462" x2="138.5" y2="1243.3019363548462" stroke="#000" stroke-width="2.8"/>
<line x1="134" y1="1233.749031822577" x2="138.5" y2="1233.749031822577" stroke="#000" stroke-width="2.8"/>
<line x1="134" y1="1225.9437404934324" x2="138.5" y2="1225.9437404934324" stroke="#000" stroke-width="2.8"/>
<line x1="134" y1="1219.3444607055947" x2="138.5" y2="1219.3444607055947" stroke="#000" stroke-width="2.8"/>
<line x1="134" y1="1213.6279045322692" x2="138.5" y2="1213.6279045322692" stroke="#000" stroke-width="2.8"/>
<line x1="134" y1="1208.5855446320186" x2="138.5" y2="1208.5855446320186" stroke="#000" stroke-width="2.8"/>
<line x1="134" y1="1302.65" x2="140" y2="1302.65" stroke="#000" stroke-width="2.8"/>
<line x1="134" y1="1371.550968177423" x2="138.5" y2="1371.550968177423" stroke="#000" stroke-width="2.8"/>
<line x1="134" y1="1354.1927723160093" x2="138.5" y2="1354.1927723160093" stroke="#000" stroke-width="2.8"/>
<line x1="134" y1="1341.8769363548463" x2="138.5" y2="1341.8769363548463" stroke="#000" stroke-width="2.8"/>
<line x1="134" y1="1332.3240318225771" x2="138.5" y2="1332.3240318225771" stroke="#000" stroke-width="2.8"/>
<line x1="134" y1="1324.5187404934325" x2="138.5" y2="1324.5187404934325" stroke="#000" stroke-width="2.8"/>
<line x1="134" y1="1317.9194607055947" x2="138.5" y2="1317.9194607055947" stroke="#000" stroke-width="2.8"/>
<line x1="134" y1="1312.2029045322693" x2="138.5" y2="1312.2029045322693" stroke="#000" stroke-width="2.8"/>
<line x1="134" y1="1307.1605446320186" x2="138.5" y2="1307.1605446320186" stroke="#000" stroke-width="2.8"/>
<line x1="134" y1="1401.225" x2="140" y2="1401.225" stroke="#000" stroke-width="2.8"/>
<line x1="134" y1="1470.125968177423" x2="138.5" y2="1470.125968177423" stroke="#000" stroke-width="2.8"/>
<line x1="134" y1="1452.767772316009" x2="138.5" y2="1452.767772316009" stroke="#000" stroke-width="2.8"/>
<line x1="134" y1="1440.451936354846" x2="138.5" y2="1440.451936354846" stroke="#000" stroke-width="2.8"/>
<line x1="134" y1="1430.899031822577" x2="138.5" y2="1430.899031822577" stroke="#000" stroke-width="2.8"/>
<line x1="134" y1="1423.0937404934323" x2="138.5" y2="1423.0937404934323" stroke="#000" stroke-width="2.8"/>
<line x1="134" y1="1416.4944607055945" x2="138.5" y2="1416.4944607055945" stroke="#000" stroke-width="2.8"/>
<line x1="134" y1="1410.777904532269" x2="138.5" y2="1410.777904532269" stroke="#000" stroke-width="2.8"/>
<line x1="134" y1="1405.7355446320184" x2="138.5" y2="1405.7355446320184" stroke="#000" stroke-width="2.8"/>
<line x1="181.25407830927222" y1="1499.8" x2="181.25407830927222" y2="1494.3999999999999" stroke="#000" stroke-width="2.8"/>
<line x1="209.30541587684223" y1="1499.8" x2="209.30541587684223" y2="1494.3999999999999" stroke="#000" stroke-width="2.8"/>
<line x1="229.20815661854442" y1="1499.8" x2="229.20815661854442" y2="1494.3999999999999" stroke="#000" stroke-width="2.8"/>
<line x1="244.64592169072782" y1="1499.8" x2="244.64592169072782" y2="1494.3999999999999" stroke="#000" stroke-width="2.8"/>
<line x1="257.25949418611447" y1="1499.8" x2="257.25949418611447" y2="1494.3999999999999" stroke="#000" stroke-width="2.8"/>
<line x1="267.92411777427117" y1="1499.8" x2="267.92411777427117" y2="1494.3999999999999" stroke="#000" stroke-width="2.8"/>
<line x1="277.1622349278166" y1="1499.8" x2="277.1622349278166" y2="1494.3999999999999" stroke="#000" stroke-width="2.8"/>
<line x1="285.3108317536845" y1="1499.8" x2="285.3108317536845" y2="1494.3999999999999" stroke="#000" stroke-width="2.8"/>
<line x1="292.6" y1="1499.8" x2="292.6" y2="1493.8" stroke="#000" stroke-width="2.8"/>
<line x1="340.5540783092722" y1="1499.8" x2="340.5540783092722" y2="1494.3999999999999" stroke="#000" stroke-width="2.8"/>
<line x1="368.60541587684224" y1="1499.8" x2="368.60541587684224" y2="1494.3999999999999" stroke="#000" stroke-width="2.8"/>
<line x1="388.50815661854443" y1="1499.8" x2="388.50815661854443" y2="1494.3999999999999" stroke="#000" stroke-width="2.8"/>
<line x1="403.9459216907278" y1="1499.8" x2="403.9459216907278" y2="1494.3999999999999" stroke="#000" stroke-width="2.8"/>
<line x1="416.5594941861145" y1="1499.8" x2="416.5594941861145" y2="1494.3999999999999" stroke="#000" stroke-width="2.8"/>
<line x1="427.2241177742711" y1="1499.8" x2="427.2241177742711" y2="1494.3999999999999" stroke="#000" stroke-width="2.8"/>
<line x1="436.46223492781667" y1="1499.8" x2="436.46223492781667" y2="1494.3999999999999" stroke="#000" stroke-width="2.8"/>
<line x1="444.61083175368447" y1="1499.8" x2="444.61083175368447" y2="1494.3999999999999" stroke="#000" stroke-width="2.8"/>
<line x1="451.90000000000003" y1="1499.8" x2="451.90000000000003" y2="1493.8" stroke="#000" stroke-width="2.8"/>
<line x1="499.85407830927227" y1="1499.8" x2="499.85407830927227" y2="1494.3999999999999" stroke="#000" stroke-width="2.8"/>
<line x1="527.9054158768423" y1="1499.8" x2="527.9054158768423" y2="1494.3999999999999" stroke="#000" stroke-width="2.8"/>
<line x1="547.8081566185444" y1="1499.8" x2="547.8081566185444" y2="1494.3999999999999" stroke="#000" stroke-width="2.8"/>
<line x1="563.2459216907279" y1="1499.8" x2="563.2459216907279" y2="1494.3999999999999" stroke="#000" stroke-width="2.8"/>
<line x1="575.8594941861145" y1="1499.8" x2="575.8594941861145" y2="1494.3999999999999" stroke="#000" stroke-width="2.8"/>
<line x1="586.5241177742712" y1="1499.8" x2="586.5241177742712" y2="1494.3999999999999" stroke="#000" stroke-width="2.8"/>
<line x1="595.7622349278166" y1="1499.8" x2="595.7622349278166" y2="1494.3999999999999" stroke="#000" stroke-width="2.8"/>
<line x1="603.9108317536845" y1="1499.8" x2="603.9108317536845" y2="1494.3999999999999" stroke="#000" stroke-width="2.8"/>
<line x1="611.2" y1="1499.8" x2="611.2" y2="1493.8" stroke="#000" stroke-width="2.8"/>
<text x="82.5" y="1109.2" font-size="23" fill="#000" stroke="#000" font-weight="normal" textLength="27" lengthAdjust="spacingAndGlyphs">10</text>
<text x="109.5" y="1100.5" font-size="16.5" fill="#000" stroke="#000" font-weight="normal" textLength="8" lengthAdjust="spacingAndGlyphs">7</text>
<text x="83.1" y="1207.4" font-size="23" fill="#000" stroke="#000" font-weight="normal" textLength="27" lengthAdjust="spacingAndGlyphs">10</text>
<text x="110.1" y="1198.7" font-size="16.5" fill="#000" stroke="#000" font-weight="normal" textLength="8" lengthAdjust="spacingAndGlyphs">6</text>
<text x="83.1" y="1307.9" font-size="23" fill="#000" stroke="#000" font-weight="normal" textLength="27" lengthAdjust="spacingAndGlyphs">10</text>
<text x="110.1" y="1299.2" font-size="16.5" fill="#000" stroke="#000" font-weight="normal" textLength="8" lengthAdjust="spacingAndGlyphs">5</text>
<text x="83.1" y="1408.4" font-size="23" fill="#000" stroke="#000" font-weight="normal" textLength="27" lengthAdjust="spacingAndGlyphs">10</text>
<text x="110.1" y="1399.7" font-size="16.5" fill="#000" stroke="#000" font-weight="normal" textLength="8" lengthAdjust="spacingAndGlyphs">4</text>
<text x="82.8" y="1509.4" font-size="23" fill="#000" stroke="#000" font-weight="normal" textLength="27" lengthAdjust="spacingAndGlyphs">10</text>
<text x="109.8" y="1500.7" font-size="16.5" fill="#000" stroke="#000" font-weight="normal" textLength="8" lengthAdjust="spacingAndGlyphs">3</text>
<text x="109" y="1530.2" font-size="24" fill="#000" stroke="#000" font-weight="normal" textLength="52" lengthAdjust="spacingAndGlyphs">5x10</text>
<text x="161" y="1520.2" font-size="15.5" fill="#000" stroke="#000" font-weight="normal" textLength="8" lengthAdjust="spacingAndGlyphs">1</text>
<text x="264.2" y="1530.2" font-size="24" fill="#000" stroke="#000" font-weight="normal" textLength="52" lengthAdjust="spacingAndGlyphs">5x10</text>
<text x="316.2" y="1520.2" font-size="15.5" fill="#000" stroke="#000" font-weight="normal" textLength="8" lengthAdjust="spacingAndGlyphs">2</text>
<text x="423.7" y="1530.5" font-size="24" fill="#000" stroke="#000" font-weight="normal" textLength="52" lengthAdjust="spacingAndGlyphs">5x10</text>
<text x="475.7" y="1520.5" font-size="15.5" fill="#000" stroke="#000" font-weight="normal" textLength="8" lengthAdjust="spacingAndGlyphs">3</text>
<text x="578" y="1530.5" font-size="24" fill="#000" stroke="#000" font-weight="normal" textLength="52" lengthAdjust="spacingAndGlyphs">5x10</text>
<text x="630" y="1520.5" font-size="15.5" fill="#000" stroke="#000" font-weight="normal" textLength="8" lengthAdjust="spacingAndGlyphs">4</text>
<text x="300.7" y="1561.2" font-size="25" fill="#000" stroke="#000" font-weight="normal" textLength="168" lengthAdjust="spacingAndGlyphs">DNA length (bp)</text>
<g transform="translate(57,1429.3) rotate(-90)">
<text x="0" y="0" font-size="22.5" fill="#000" stroke="#000" font-weight="normal" textLength="250" lengthAdjust="spacingAndGlyphs">Solution resistance (Ω)</text>
</g>
<rect x="470.4" y="1401.1" width="171.5" height="79.80000000000018" fill="none" stroke="#000" stroke-width="2.8" stroke-linejoin="round"/>
<circle cx="491.4" cy="1426.2" r="7.7" fill="none" stroke="#e0121c" stroke-width="2.0"/>
<circle cx="491.2" cy="1455.8" r="7.7" fill="none" stroke="#000" stroke-width="2.0"/>
<text x="528.4" y="1433.8" font-size="21.5" fill="#e0121c" stroke="#e0121c" font-weight="normal" textLength="98.5" lengthAdjust="spacingAndGlyphs">0.5 MV/m</text>
<text x="528.4" y="1463.8" font-size="21.5" fill="#000" stroke="#000" font-weight="normal" textLength="98.5" lengthAdjust="spacingAndGlyphs">0.1 MV/m</text>
<path d="M180.20,1255.10a1.8,1.8 0 1,0 3.6,0a1.8,1.8 0 1,0 -3.6,0M188.40,1253.92a1.8,1.8 0 1,0 3.6,0a1.8,1.8 0 1,0 -3.6,0M196.59,1252.73a1.8,1.8 0 1,0 3.6,0a1.8,1.8 0 1,0 -3.6,0M204.79,1251.55a1.8,1.8 0 1,0 3.6,0a1.8,1.8 0 1,0 -3.6,0M212.98,1250.37a1.8,1.8 0 1,0 3.6,0a1.8,1.8 0 1,0 -3.6,0M221.18,1249.19a1.8,1.8 0 1,0 3.6,0a1.8,1.8 0 1,0 -3.6,0M229.38,1248.00a1.8,1.8 0 1,0 3.6,0a1.8,1.8 0 1,0 -3.6,0M237.57,1246.82a1.8,1.8 0 1,0 3.6,0a1.8,1.8 0 1,0 -3.6,0M245.77,1245.64a1.8,1.8 0 1,0 3.6,0a1.8,1.8 0 1,0 -3.6,0M253.97,1244.46a1.8,1.8 0 1,0 3.6,0a1.8,1.8 0 1,0 -3.6,0M262.16,1243.27a1.8,1.8 0 1,0 3.6,0a1.8,1.8 0 1,0 -3.6,0M270.36,1242.09a1.8,1.8 0 1,0 3.6,0a1.8,1.8 0 1,0 -3.6,0M278.55,1240.91a1.8,1.8 0 1,0 3.6,0a1.8,1.8 0 1,0 -3.6,0M286.75,1239.72a1.8,1.8 0 1,0 3.6,0a1.8,1.8 0 1,0 -3.6,0M294.95,1238.54a1.8,1.8 0 1,0 3.6,0a1.8,1.8 0 1,0 -3.6,0M303.14,1237.36a1.8,1.8 0 1,0 3.6,0a1.8,1.8 0 1,0 -3.6,0M311.34,1236.18a1.8,1.8 0 1,0 3.6,0a1.8,1.8 0 1,0 -3.6,0M319.53,1234.99a1.8,1.8 0 1,0 3.6,0a1.8,1.8 0 1,0 -3.6,0M327.73,1233.81a1.8,1.8 0 1,0 3.6,0a1.8,1.8 0 1,0 -3.6,0M335.93,1232.63a1.8,1.8 0 1,0 3.6,0a1.8,1.8 0 1,0 -3.6,0M344.12,1231.45a1.8,1.8 0 1,0 3.6,0a1.8,1.8 0 1,0 -3.6,0M352.32,1230.26a1.8,1.8 0 1,0 3.6,0a1.8,1.8 0 1,0 -3.6,0M360.52,1229.08a1.8,1.8 0 1,0 3.6,0a1.8,1.8 0 1,0 -3.6,0M368.71,1227.90a1.8,1.8 0 1,0 3.6,0a1.8,1.8 0 1,0 -3.6,0M376.91,1226.72a1.8,1.8 0 1,0 3.6,0a1.8,1.8 0 1,0 -3.6,0M385.10,1225.53a1.8,1.8 0 1,0 3.6,0a1.8,1.8 0 1,0 -3.6,0M393.30,1224.35a1.8,1.8 0 1,0 3.6,0a1.8,1.8 0 1,0 -3.6,0M401.50,1223.17a1.8,1.8 0 1,0 3.6,0a1.8,1.8 0 1,0 -3.6,0M409.69,1221.98a1.8,1.8 0 1,0 3.6,0a1.8,1.8 0 1,0 -3.6,0M417.89,1220.80a1.8,1.8 0 1,0 3.6,0a1.8,1.8 0 1,0 -3.6,0M426.08,1219.62a1.8,1.8 0 1,0 3.6,0a1.8,1.8 0 1,0 -3.6,0M434.28,1218.44a1.8,1.8 0 1,0 3.6,0a1.8,1.8 0 1,0 -3.6,0M442.48,1217.25a1.8,1.8 0 1,0 3.6,0a1.8,1.8 0 1,0 -3.6,0M450.67,1216.07a1.8,1.8 0 1,0 3.6,0a1.8,1.8 0 1,0 -3.6,0M458.87,1214.89a1.8,1.8 0 1,0 3.6,0a1.8,1.8 0 1,0 -3.6,0M467.07,1213.71a1.8,1.8 0 1,0 3.6,0a1.8,1.8 0 1,0 -3.6,0M475.26,1212.52a1.8,1.8 0 1,0 3.6,0a1.8,1.8 0 1,0 -3.6,0M483.46,1211.34a1.8,1.8 0 1,0 3.6,0a1.8,1.8 0 1,0 -3.6,0M491.65,1210.16a1.8,1.8 0 1,0 3.6,0a1.8,1.8 0 1,0 -3.6,0M499.85,1208.97a1.8,1.8 0 1,0 3.6,0a1.8,1.8 0 1,0 -3.6,0M508.05,1207.79a1.8,1.8 0 1,0 3.6,0a1.8,1.8 0 1,0 -3.6,0M516.24,1206.61a1.8,1.8 0 1,0 3.6,0a1.8,1.8 0 1,0 -3.6,0M524.44,1205.43a1.8,1.8 0 1,0 3.6,0a1.8,1.8 0 1,0 -3.6,0M532.63,1204.24a1.8,1.8 0 1,0 3.6,0a1.8,1.8 0 1,0 -3.6,0M540.83,1203.06a1.8,1.8 0 1,0 3.6,0a1.8,1.8 0 1,0 -3.6,0M549.03,1201.88a1.8,1.8 0 1,0 3.6,0a1.8,1.8 0 1,0 -3.6,0M557.22,1200.70a1.8,1.8 0 1,0 3.6,0a1.8,1.8 0 1,0 -3.6,0M565.42,1199.51a1.8,1.8 0 1,0 3.6,0a1.8,1.8 0 1,0 -3.6,0M573.62,1198.33a1.8,1.8 0 1,0 3.6,0a1.8,1.8 0 1,0 -3.6,0M581.81,1197.15a1.8,1.8 0 1,0 3.6,0a1.8,1.8 0 1,0 -3.6,0M590.01,1195.97a1.8,1.8 0 1,0 3.6,0a1.8,1.8 0 1,0 -3.6,0M598.20,1194.78a1.8,1.8 0 1,0 3.6,0a1.8,1.8 0 1,0 -3.6,0M606.40,1193.60a1.8,1.8 0 1,0 3.6,0a1.8,1.8 0 1,0 -3.6,0" fill="#000"/>
<path d="M180.20,1355.30a1.8,1.8 0 1,0 3.6,0a1.8,1.8 0 1,0 -3.6,0M188.15,1352.75a1.8,1.8 0 1,0 3.6,0a1.8,1.8 0 1,0 -3.6,0M196.09,1350.19a1.8,1.8 0 1,0 3.6,0a1.8,1.8 0 1,0 -3.6,0M204.04,1347.64a1.8,1.8 0 1,0 3.6,0a1.8,1.8 0 1,0 -3.6,0M211.98,1345.08a1.8,1.8 0 1,0 3.6,0a1.8,1.8 0 1,0 -3.6,0M219.93,1342.53a1.8,1.8 0 1,0 3.6,0a1.8,1.8 0 1,0 -3.6,0M227.87,1339.97a1.8,1.8 0 1,0 3.6,0a1.8,1.8 0 1,0 -3.6,0M235.82,1337.42a1.8,1.8 0 1,0 3.6,0a1.8,1.8 0 1,0 -3.6,0M243.76,1334.86a1.8,1.8 0 1,0 3.6,0a1.8,1.8 0 1,0 -3.6,0M251.71,1332.31a1.8,1.8 0 1,0 3.6,0a1.8,1.8 0 1,0 -3.6,0M259.65,1329.75a1.8,1.8 0 1,0 3.6,0a1.8,1.8 0 1,0 -3.6,0M267.60,1327.20a1.8,1.8 0 1,0 3.6,0a1.8,1.8 0 1,0 -3.6,0M275.54,1324.64a1.8,1.8 0 1,0 3.6,0a1.8,1.8 0 1,0 -3.6,0M283.49,1322.09a1.8,1.8 0 1,0 3.6,0a1.8,1.8 0 1,0 -3.6,0M291.43,1319.53a1.8,1.8 0 1,0 3.6,0a1.8,1.8 0 1,0 -3.6,0M299.38,1316.98a1.8,1.8 0 1,0 3.6,0a1.8,1.8 0 1,0 -3.6,0M307.32,1314.42a1.8,1.8 0 1,0 3.6,0a1.8,1.8 0 1,0 -3.6,0M315.27,1311.87a1.8,1.8 0 1,0 3.6,0a1.8,1.8 0 1,0 -3.6,0M323.22,1309.32a1.8,1.8 0 1,0 3.6,0a1.8,1.8 0 1,0 -3.6,0M331.16,1306.76a1.8,1.8 0 1,0 3.6,0a1.8,1.8 0 1,0 -3.6,0M339.11,1304.21a1.8,1.8 0 1,0 3.6,0a1.8,1.8 0 1,0 -3.6,0M347.05,1301.65a1.8,1.8 0 1,0 3.6,0a1.8,1.8 0 1,0 -3.6,0M355.00,1299.10a1.8,1.8 0 1,0 3.6,0a1.8,1.8 0 1,0 -3.6,0M362.94,1296.54a1.8,1.8 0 1,0 3.6,0a1.8,1.8 0 1,0 -3.6,0M370.89,1293.99a1.8,1.8 0 1,0 3.6,0a1.8,1.8 0 1,0 -3.6,0M378.83,1291.43a1.8,1.8 0 1,0 3.6,0a1.8,1.8 0 1,0 -3.6,0M386.78,1288.88a1.8,1.8 0 1,0 3.6,0a1.8,1.8 0 1,0 -3.6,0M394.72,1286.32a1.8,1.8 0 1,0 3.6,0a1.8,1.8 0 1,0 -3.6,0M402.67,1283.77a1.8,1.8 0 1,0 3.6,0a1.8,1.8 0 1,0 -3.6,0M410.61,1281.21a1.8,1.8 0 1,0 3.6,0a1.8,1.8 0 1,0 -3.6,0M418.56,1278.66a1.8,1.8 0 1,0 3.6,0a1.8,1.8 0 1,0 -3.6,0M426.50,1276.10a1.8,1.8 0 1,0 3.6,0a1.8,1.8 0 1,0 -3.6,0M434.45,1273.55a1.8,1.8 0 1,0 3.6,0a1.8,1.8 0 1,0 -3.6,0M442.39,1270.99a1.8,1.8 0 1,0 3.6,0a1.8,1.8 0 1,0 -3.6,0M450.34,1268.44a1.8,1.8 0 1,0 3.6,0a1.8,1.8 0 1,0 -3.6,0M458.28,1265.88a1.8,1.8 0 1,0 3.6,0a1.8,1.8 0 1,0 -3.6,0M466.23,1263.33a1.8,1.8 0 1,0 3.6,0a1.8,1.8 0 1,0 -3.6,0M474.18,1260.78a1.8,1.8 0 1,0 3.6,0a1.8,1.8 0 1,0 -3.6,0M482.12,1258.22a1.8,1.8 0 1,0 3.6,0a1.8,1.8 0 1,0 -3.6,0M490.07,1255.67a1.8,1.8 0 1,0 3.6,0a1.8,1.8 0 1,0 -3.6,0M498.01,1253.11a1.8,1.8 0 1,0 3.6,0a1.8,1.8 0 1,0 -3.6,0M505.96,1250.56a1.8,1.8 0 1,0 3.6,0a1.8,1.8 0 1,0 -3.6,0M513.90,1248.00a1.8,1.8 0 1,0 3.6,0a1.8,1.8 0 1,0 -3.6,0M521.85,1245.45a1.8,1.8 0 1,0 3.6,0a1.8,1.8 0 1,0 -3.6,0M529.79,1242.89a1.8,1.8 0 1,0 3.6,0a1.8,1.8 0 1,0 -3.6,0M537.74,1240.34a1.8,1.8 0 1,0 3.6,0a1.8,1.8 0 1,0 -3.6,0M545.68,1237.78a1.8,1.8 0 1,0 3.6,0a1.8,1.8 0 1,0 -3.6,0M553.63,1235.23a1.8,1.8 0 1,0 3.6,0a1.8,1.8 0 1,0 -3.6,0M561.57,1232.67a1.8,1.8 0 1,0 3.6,0a1.8,1.8 0 1,0 -3.6,0M569.52,1230.12a1.8,1.8 0 1,0 3.6,0a1.8,1.8 0 1,0 -3.6,0M577.46,1227.56a1.8,1.8 0 1,0 3.6,0a1.8,1.8 0 1,0 -3.6,0M585.41,1225.01a1.8,1.8 0 1,0 3.6,0a1.8,1.8 0 1,0 -3.6,0M593.35,1222.45a1.8,1.8 0 1,0 3.6,0a1.8,1.8 0 1,0 -3.6,0M601.30,1219.90a1.8,1.8 0 1,0 3.6,0a1.8,1.8 0 1,0 -3.6,0" fill="#ff0000"/>
<circle cx="180.9" cy="1246.4" r="5.6" fill="none" stroke="#000" stroke-width="1.3"/>
<path d="M176.6,1244.4H186.4M182.3,1244.4V1250.8M176.6,1250.8H186.4" stroke="#000" stroke-width="1.4" fill="none"/>
<circle cx="292.6" cy="1240.4" r="5.6" fill="none" stroke="#000" stroke-width="1.3"/>
<path d="M288.3,1238.4H298.1M294.0,1238.4V1244.8M288.3,1244.8H298.1" stroke="#000" stroke-width="1.4" fill="none"/>
<circle cx="340.2" cy="1231.1" r="5.6" fill="none" stroke="#000" stroke-width="1.3"/>
<path d="M335.9,1229.1H345.7M341.6,1229.1V1235.5M335.9,1235.5H345.7" stroke="#000" stroke-width="1.4" fill="none"/>
<circle cx="451.6" cy="1221.5" r="5.6" fill="none" stroke="#000" stroke-width="1.3"/>
<path d="M447.3,1219.5H457.1M453.0,1219.5V1225.9M447.3,1225.9H457.1" stroke="#000" stroke-width="1.4" fill="none"/>
<circle cx="499.0" cy="1214.5" r="5.6" fill="none" stroke="#000" stroke-width="1.3"/>
<path d="M494.7,1212.5H504.5M500.4,1212.5V1218.9M494.7,1218.9H504.5" stroke="#000" stroke-width="1.4" fill="none"/>
<circle cx="607.9" cy="1182.1" r="5.6" fill="none" stroke="#000" stroke-width="1.3"/>
<path d="M603.6,1180.1H613.4M609.3,1180.1V1186.5M603.6,1186.5H613.4" stroke="#000" stroke-width="1.4" fill="none"/>
<circle cx="180.6" cy="1337.3" r="5.6" fill="none" stroke="#ff0000" stroke-width="1.3"/>
<path d="M176.3,1335.3H186.1M182.0,1335.3V1341.7M176.3,1341.7H186.1" stroke="#ff0000" stroke-width="1.4" fill="none"/>
<circle cx="292.3" cy="1327.9" r="5.6" fill="none" stroke="#ff0000" stroke-width="1.3"/>
<path d="M288.0,1325.9H297.8M293.7,1325.9V1332.3M288.0,1332.3H297.8" stroke="#ff0000" stroke-width="1.4" fill="none"/>
<circle cx="339.6" cy="1308.6" r="5.6" fill="none" stroke="#ff0000" stroke-width="1.3"/>
<path d="M335.3,1306.6H345.1M341.0,1306.6V1313.0M335.3,1313.0H345.1" stroke="#ff0000" stroke-width="1.4" fill="none"/>
<circle cx="451.6" cy="1281.3" r="5.6" fill="none" stroke="#ff0000" stroke-width="1.3"/>
<path d="M447.3,1279.3H457.1M453.0,1279.3V1285.7M447.3,1285.7H457.1" stroke="#ff0000" stroke-width="1.4" fill="none"/>
<circle cx="499.0" cy="1255.1" r="5.6" fill="none" stroke="#ff0000" stroke-width="1.3"/>
<path d="M494.7,1253.1H504.5M500.4,1253.1V1259.5M494.7,1259.5H504.5" stroke="#ff0000" stroke-width="1.4" fill="none"/>
<circle cx="607.9" cy="1201.2" r="5.6" fill="none" stroke="#ff0000" stroke-width="1.3"/>
<path d="M603.6,1199.2H613.4M609.3,1199.2V1205.6M603.6,1205.6H613.4" stroke="#ff0000" stroke-width="1.4" fill="none"/>
<text x="409.7" y="1181.76" font-size="18.48" fill="#000" stroke="#000" font-weight="normal" textLength="9.0" lengthAdjust="spacingAndGlyphs">y</text>
<text x="424.7" y="1179.5" font-size="10.2" fill="#000" stroke="#000" font-weight="normal" textLength="10.1" lengthAdjust="spacingAndGlyphs">=</text>
<text x="440.4" y="1181.2" font-size="19.63" fill="#000" stroke="#000" font-weight="normal" textLength="23.9" lengthAdjust="spacingAndGlyphs">1.0</text>
<text x="467.7" y="1179.9" font-size="16.91" fill="#000" stroke="#000" font-weight="normal" textLength="10.5" lengthAdjust="spacingAndGlyphs">×</text>
<text x="481.0" y="1181.2" font-size="19.63" fill="#000" stroke="#000" font-weight="normal" textLength="19.31" lengthAdjust="spacingAndGlyphs">10</text>
<text x="501.1" y="1174.56" font-size="13.7" fill="#000" stroke="#000" font-weight="normal" textLength="9.5" lengthAdjust="spacingAndGlyphs">6</text>
<text x="518.6" y="1181.3" font-size="20.49" fill="#000" stroke="#000" font-weight="normal" textLength="10.8" lengthAdjust="spacingAndGlyphs">X</text>
<text x="530.2" y="1173.86" font-size="13.98" fill="#000" stroke="#000" font-weight="normal" textLength="37.21" lengthAdjust="spacingAndGlyphs">0.230</text>
<text x="470.8" y="1314.97" font-size="18.89" fill="#e0121c" stroke="#e0121c" font-weight="normal" textLength="9.6" lengthAdjust="spacingAndGlyphs">y</text>
<text x="485.9" y="1312.5" font-size="10.2" fill="#e0121c" stroke="#e0121c" font-weight="normal" textLength="9.5" lengthAdjust="spacingAndGlyphs">=</text>
<text x="502.1" y="1314.7" font-size="19.05" fill="#e0121c" stroke="#e0121c" font-weight="normal" textLength="8.9" lengthAdjust="spacingAndGlyphs">2</text>
<text x="513.5" y="1313.9" font-size="16.91" fill="#e0121c" stroke="#e0121c" font-weight="normal" textLength="10.0" lengthAdjust="spacingAndGlyphs">×</text>
<text x="525.5" y="1314.51" font-size="18.79" fill="#e0121c" stroke="#e0121c" font-weight="normal" textLength="19.41" lengthAdjust="spacingAndGlyphs">10</text>
<text x="546.1" y="1308.77" font-size="12.99" fill="#e0121c" stroke="#e0121c" font-weight="normal" textLength="7.5" lengthAdjust="spacingAndGlyphs">3</text>
<text x="562.7" y="1314.7" font-size="20.35" fill="#e0121c" stroke="#e0121c" font-weight="normal" textLength="11.7" lengthAdjust="spacingAndGlyphs">X</text>
<text x="575.2" y="1307.76" font-size="13.98" fill="#e0121c" stroke="#e0121c" font-weight="normal" textLength="37.21" lengthAdjust="spacingAndGlyphs">0.519</text>
</svg></body></html>
